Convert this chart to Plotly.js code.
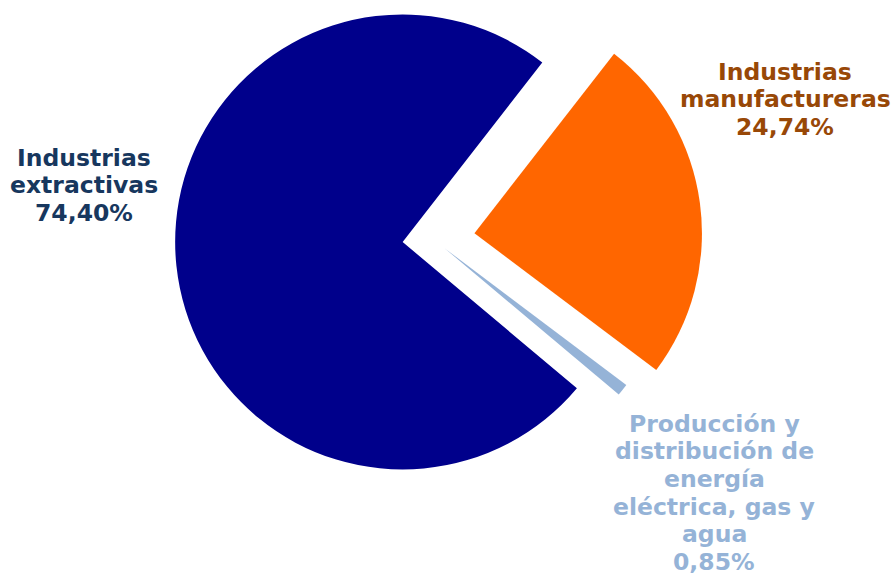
<!DOCTYPE html>
<html>
<head>
<meta charset="utf-8">
<script src="https://cdn.plot.ly/plotly-3.0.1.min.js"></script>
<style>
  html, body { margin: 0; padding: 0; overflow: hidden; background: #ffffff; }
  #wrap { position: relative; width: 895px; height: 576px; overflow: hidden; }
  #chart { position: absolute; left: 0; top: -31.5px; width: 895px; height: 607.5px; }
</style>
</head>
<body>
<div id="wrap"><div id="chart"></div></div>
<script>
// ---- data ----
const categories = ['Industrias extractivas', 'Industrias manufactureras', 'Producción y distribución de energía eléctrica, gas y agua'];
const shares = [74.40, 24.74, 0.85];
const labelLines = [
  ['Industrias', 'extractivas'],
  ['Industrias', 'manufactureras'],
  ['Producción y', 'distribución de', 'energía', 'eléctrica, gas y', 'agua']
];

// ---- styling ----
const sliceColors = ['#00008B', '#FF6600', '#95B3D7'];
const textColors = ['#17375E', '#984807', '#95B3D7'];
const H = 607.5, OFF = 31.5;          // div height and vertical offset (px)
// label anchor (window px): centre x, first line y, line step
const labelPos = [
  {x: 84, y: 157, step: 27.5},
  {x: 785, y: 71, step: 27.5},
  {x: 714, y: 423, step: 27.6}
];
function py(wy) { return 1 - (wy + OFF) / H; }
function fmtPct(v) { return v.toFixed(2).replace('.', ',') + '%'; }

const annotations = [];
labelLines.forEach(function (lines, i) {
  const all = lines.concat([fmtPct(shares[i])]);
  all.forEach(function (t, j) {
    annotations.push({
      text: t,
      xref: 'paper', yref: 'paper',
      x: labelPos[i].x / 895,
      y: py(labelPos[i].y + j * labelPos[i].step),
      xanchor: 'center', yanchor: 'middle',
      showarrow: false,
      font: {family: 'DejaVu Sans, Verdana, sans-serif', size: 23.5, color: textColors[i], weight: 'bold'}
    });
  });
});

const trace = {
  type: 'pie',
  labels: categories,
  values: shares,
  sort: false,
  direction: 'clockwise',
  rotation: 130,
  pull: [0.133, 0.185, 0.066],
  textinfo: 'none',
  hoverinfo: 'label+percent',
  marker: {colors: sliceColors, line: {width: 0}},
  domain: {x: [0.1823, 0.7847], y: [1 - 539.2 / H, 1]},
  showlegend: false
};

const layout = {
  width: 895, height: H,
  margin: {l: 0, r: 0, t: 0, b: 0},
  paper_bgcolor: '#ffffff',
  plot_bgcolor: '#ffffff',
  showlegend: false,
  annotations: annotations
};

Plotly.newPlot('chart', [trace], layout, {displayModeBar: false, staticPlot: true});
</script>
</body>
</html>
